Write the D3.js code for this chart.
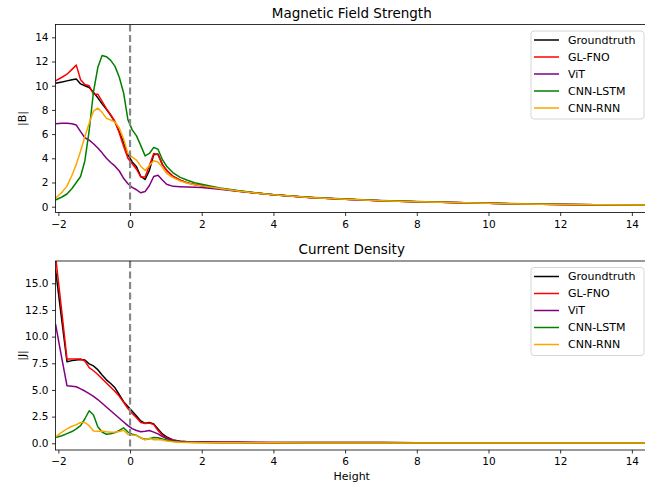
<!DOCTYPE html>
<html>
<head>
<meta charset="utf-8">
<script src="https://cdn.jsdelivr.net/npm/d3@7"></script>
<style>
body { margin: 0; background: #fff; }
text { font-family: "DejaVu Sans", sans-serif; }
</style>
</head>
<body>
<svg id="chart"></svg>
<script>
// shared height grid (x values)
const heights = [-2.08, -1.9, -1.76, -1.62, -1.5, -1.38, -1.26, -1.14, -1.02, -0.9, -0.78, -0.66, -0.54, -0.42, -0.3, -0.18, -0.06, 0.06, 0.18, 0.3, 0.42, 0.54, 0.66, 0.78, 0.9, 1.02, 1.2, 1.4, 1.6, 1.8, 2.0, 2.5, 3, 3.5, 4, 5, 6, 7, 8, 9, 10, 11, 12, 13, 14.45];

// |B| series
const bGroundtruth = [10.2, 10.3, 10.4, 10.5, 10.55, 10.15, 10.0, 9.85, 9.45, 9.0, 8.5, 8.05, 7.55, 7.0, 6.2, 5.3, 4.3, 3.7, 3.3, 2.5, 2.25, 3.0, 4.3, 4.35, 3.5, 3.0, 2.5, 2.2, 1.97, 1.84, 1.74, 1.5, 1.3, 1.13, 0.98, 0.77, 0.62, 0.5, 0.41, 0.34, 0.28, 0.23, 0.19, 0.16, 0.13];
const bGLFNO = [10.4, 10.7, 10.95, 11.35, 11.7, 10.5, 10.1, 10.0, 9.3, 9.3, 8.7, 8.1, 7.6, 7.05, 6.1, 5.0, 4.0, 3.55, 3.1, 2.45, 2.45, 3.4, 4.4, 4.3, 3.5, 3.0, 2.5, 2.2, 1.97, 1.84, 1.74, 1.5, 1.3, 1.13, 0.98, 0.77, 0.62, 0.5, 0.41, 0.34, 0.28, 0.23, 0.19, 0.16, 0.13];
const bViT = [6.85, 6.9, 6.9, 6.85, 6.75, 6.2, 5.7, 5.5, 5.2, 4.85, 4.45, 4.0, 3.65, 3.35, 2.95, 2.35, 1.9, 1.6, 1.4, 1.15, 1.25, 1.75, 2.5, 2.6, 2.2, 1.85, 1.68, 1.65, 1.62, 1.6, 1.58, 1.45, 1.28, 1.13, 0.98, 0.77, 0.62, 0.5, 0.41, 0.34, 0.28, 0.23, 0.19, 0.16, 0.13];
const bCNNLSTM = [0.55, 0.8, 1.05, 1.5, 2.0, 2.5, 3.8, 6.3, 9.5, 11.5, 12.5, 12.4, 12.1, 11.6, 10.7, 9.4, 7.2, 6.35, 5.85, 5.05, 4.2, 4.4, 4.9, 4.75, 3.9, 3.35, 2.8, 2.42, 2.18, 1.98, 1.85, 1.55, 1.33, 1.15, 0.99, 0.78, 0.63, 0.51, 0.42, 0.35, 0.29, 0.24, 0.2, 0.17, 0.14];
const bCNNRNN = [0.7, 1.2, 1.7, 2.6, 3.5, 4.6, 5.8, 6.9, 7.9, 8.15, 7.8, 7.3, 7.17, 7.0, 6.5, 5.6, 4.4, 4.1, 3.85, 3.35, 3.0, 3.4, 3.8, 3.7, 3.25, 2.76, 2.4, 2.12, 1.94, 1.82, 1.72, 1.5, 1.3, 1.13, 0.98, 0.77, 0.62, 0.5, 0.41, 0.34, 0.28, 0.23, 0.19, 0.16, 0.13];

// |J| series
const jGroundtruth = [16.3, 11.4, 7.65, 7.75, 7.8, 7.85, 7.8, 7.45, 7.25, 6.9, 6.4, 5.95, 5.6, 5.2, 4.55, 3.9, 3.45, 3.0, 2.55, 2.1, 1.87, 1.95, 1.82, 1.35, 0.88, 0.6, 0.32, 0.2, 0.15, 0.13, 0.12, 0.1, 0.09, 0.08, 0.08, 0.07, 0.07, 0.07, 0.06, 0.06, 0.06, 0.06, 0.06, 0.06, 0.06];
const jGLFNO = [17.6, 12.2, 7.9, 7.9, 7.9, 7.9, 7.7, 7.1, 6.8, 6.45, 6.05, 5.65, 5.25, 4.85, 4.4, 3.85, 3.25, 2.8, 2.4, 1.95, 1.85, 1.9, 1.75, 1.2, 0.75, 0.5, 0.28, 0.18, 0.14, 0.12, 0.11, 0.1, 0.09, 0.08, 0.08, 0.07, 0.07, 0.07, 0.06, 0.06, 0.06, 0.06, 0.06, 0.06, 0.06];
const jViT = [11.2, 7.9, 5.4, 5.35, 5.3, 5.1, 4.9, 4.65, 4.4, 4.1, 3.75, 3.4, 3.05, 2.7, 2.35, 2.0, 1.65, 1.38, 1.2, 1.08, 1.12, 1.2, 1.05, 0.88, 0.62, 0.45, 0.25, 0.16, 0.12, 0.1, 0.09, 0.08, 0.07, 0.07, 0.06, 0.06, 0.06, 0.05, 0.05, 0.05, 0.05, 0.05, 0.05, 0.05, 0.05];
const jCNNLSTM = [0.55, 0.7, 0.9, 1.1, 1.35, 1.65, 2.3, 3.05, 2.65, 1.55, 1.05, 0.85, 0.9, 1.0, 1.2, 1.45, 1.05, 0.85, 0.75, 0.5, 0.37, 0.42, 0.55, 0.52, 0.4, 0.3, 0.18, 0.12, 0.09, 0.08, 0.07, 0.06, 0.05, 0.05, 0.05, 0.04, 0.04, 0.04, 0.04, 0.04, 0.04, 0.04, 0.04, 0.04, 0.04];
const jCNNRNN = [0.6, 1.05, 1.35, 1.6, 1.75, 1.95, 1.95, 1.65, 1.15, 1.12, 1.15, 1.08, 1.03, 1.05, 1.1, 1.22, 0.82, 0.78, 0.75, 0.52, 0.31, 0.48, 0.32, 0.35, 0.3, 0.22, 0.14, 0.1, 0.08, 0.07, 0.06, 0.05, 0.04, 0.04, 0.04, 0.03, 0.03, 0.03, 0.03, 0.03, 0.03, 0.03, 0.03, 0.03, 0.03];

const seriesNames = ["Groundtruth", "GL-FNO", "ViT", "CNN-LSTM", "CNN-RNN"];
const seriesColors = ["black", "red", "purple", "green", "orange"];

const xTicks = [-2, 0, 2, 4, 6, 8, 10, 12, 14];
const bTicks = [0, 2, 4, 6, 8, 10, 12, 14];
const jTicks = [0, 2.5, 5, 7.5, 10, 12.5, 15];

const width = 645;
const height = 484;

const svg = d3.select("#chart")
    .attr("width", width)
    .attr("height", height);

const x = d3.scaleLinear().domain([-2.08, 14.45]).range([55.5, 648]);

const panels = [
    { id: "b", top: 24.5, bottom: 212.5, yDomain: [-0.48, 15.06], ticks: bTicks, fmt: d3.format("d"),
      title: "Magnetic Field Strength", ylabel: "|B|",
      series: [bGroundtruth, bGLFNO, bViT, bCNNLSTM, bCNNRNN] },
    { id: "j", top: 261, bottom: 450, yDomain: [-0.63, 17.09], ticks: jTicks, fmt: d3.format(".1f"),
      title: "Current Density", ylabel: "|J|",
      series: [jGroundtruth, jGLFNO, jViT, jCNNLSTM, jCNNRNN] }
];

panels.forEach(p => {
    const y = d3.scaleLinear().domain(p.yDomain).range([p.bottom, p.top]);
    const g = svg.append("g");

    g.append("clipPath").attr("id", "clip-" + p.id)
        .append("rect")
        .attr("x", x.range()[0]).attr("y", p.top)
        .attr("width", x.range()[1] - x.range()[0]).attr("height", p.bottom - p.top);

    const plot = g.append("g").attr("clip-path", `url(#clip-${p.id})`);

    const line = d3.line()
        .x((d, i) => x(heights[i]))
        .y(d => y(d));

    p.series.forEach((s, i) => {
        plot.append("path")
            .datum(s)
            .attr("d", line)
            .attr("fill", "none")
            .attr("stroke", seriesColors[i])
            .attr("stroke-width", 1.5)
            .attr("stroke-linejoin", "round");
    });

    // dashed line at height 0
    plot.append("line")
        .attr("x1", x(0)).attr("x2", x(0))
        .attr("y1", p.top).attr("y2", p.bottom)
        .attr("stroke", "#888888")
        .attr("stroke-width", 2.2)
        .attr("stroke-dasharray", "7,3.5");

    // frame
    g.append("rect")
        .attr("x", x.range()[0]).attr("y", p.top)
        .attr("width", x.range()[1] - x.range()[0]).attr("height", p.bottom - p.top)
        .attr("fill", "none")
        .attr("stroke", "black")
        .attr("stroke-width", 0.8);

    const xAxis = d3.axisBottom(x).tickValues(xTicks).tickSize(3.5).tickPadding(4.5).tickSizeOuter(0);
    const yAxis = d3.axisLeft(y).tickValues(p.ticks).tickFormat(p.fmt).tickSize(3.5).tickPadding(3.5).tickSizeOuter(0);

    const gx = g.append("g")
        .attr("transform", `translate(0, ${p.bottom})`)
        .call(xAxis);
    const gy = g.append("g")
        .attr("transform", `translate(${x.range()[0]}, 0)`)
        .call(yAxis);

    [gx, gy].forEach(ax => {
        ax.select(".domain").remove();
        ax.selectAll("line").attr("stroke-width", 0.8);
        ax.selectAll("text")
            .attr("font-size", "10.5px")
            .attr("font-family", "DejaVu Sans, sans-serif");
    });

    g.append("text")
        .attr("x", (x.range()[0] + x.range()[1]) / 2)
        .attr("y", p.top - 7)
        .attr("text-anchor", "middle")
        .attr("font-size", "13.5px")
        .text(p.title);

    g.append("text")
        .attr("transform", `translate(22, ${(p.top + p.bottom) / 2}) rotate(-90)`)
        .attr("text-anchor", "middle")
        .attr("dy", "0.35em")
        .attr("font-size", "11px")
        .text(p.ylabel);

    // legend
    const lg = g.append("g").attr("transform", `translate(531, ${p.top + 6.5})`);
    lg.append("rect")
        .attr("width", 113).attr("height", 88)
        .attr("rx", 3)
        .attr("fill", "white").attr("fill-opacity", 0.8)
        .attr("stroke", "#cccccc").attr("stroke-width", 0.8);
    seriesNames.forEach((name, i) => {
        const yy = 9 + i * 17;
        lg.append("line")
            .attr("x1", 3).attr("x2", 28)
            .attr("y1", yy).attr("y2", yy)
            .attr("stroke", seriesColors[i]).attr("stroke-width", 1.5);
        lg.append("text")
            .attr("x", 37).attr("y", yy)
            .attr("dy", "0.35em")
            .attr("font-size", "11px")
            .text(name);
    });
});

svg.append("text")
    .attr("x", (x.range()[0] + x.range()[1]) / 2)
    .attr("y", 480)
    .attr("text-anchor", "middle")
    .attr("font-size", "11px")
    .text("Height");
</script>
</body>
</html>
